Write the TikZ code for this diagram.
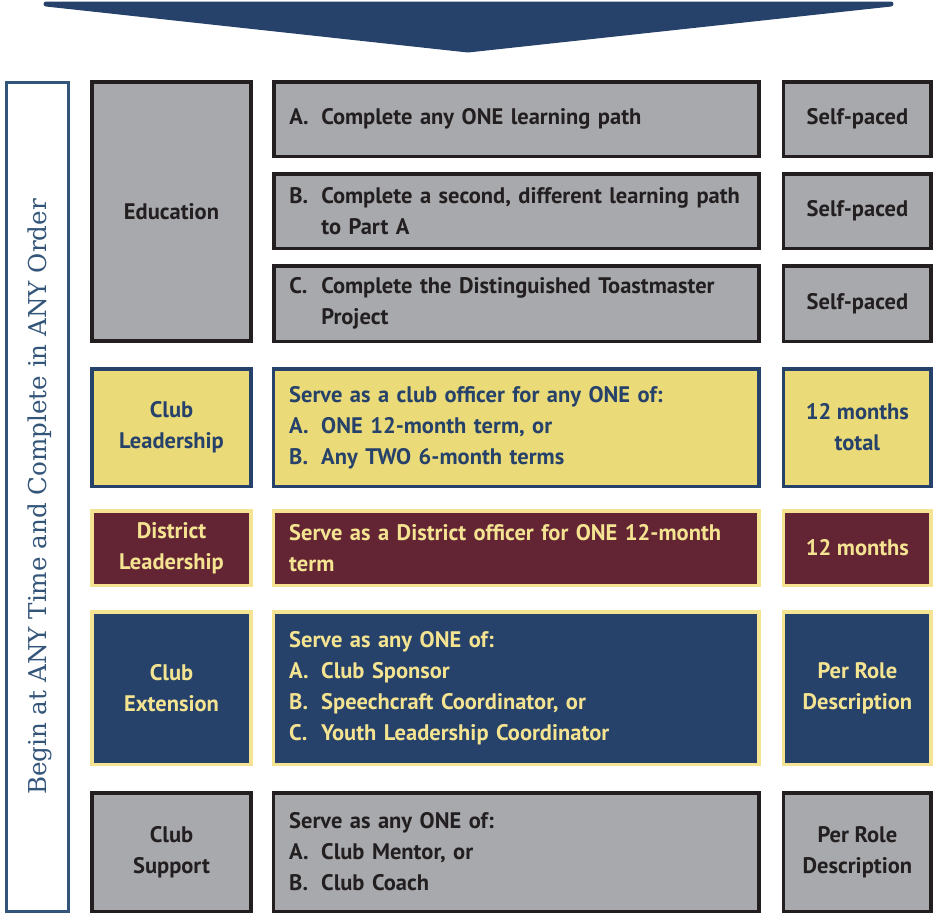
\documentclass[tikz,border=0pt]{standalone}
\usepackage{fontspec}
\setmainfont{PT Sans}
\newfontfamily\slabfont{DejaVu Serif}
\usepackage{tikz}
\usetikzlibrary{positioning}
\definecolor{tmnavy}{HTML}{26426A}
\definecolor{tmgray}{HTML}{A7A9AC}
\definecolor{tmyellow}{HTML}{EADA78}
\definecolor{tmmaroon}{HTML}{632534}
\definecolor{tmcream}{HTML}{F4E391}
\definecolor{tmink}{HTML}{231F20}
\definecolor{tmslate}{HTML}{34557A}
\tikzstyle{base} = [rectangle, line width=0.07cm, inner sep=0pt, font=\bfseries\fontsize{12.8}{17.6}\selectfont]
\tikzstyle{edubox} = [base, draw=tmink, fill=tmgray, text=tmink]
\tikzstyle{clubbox} = [base, draw=tmnavy, fill=tmyellow, text=tmnavy]
\tikzstyle{distbox} = [base, draw=tmcream, fill=tmmaroon, text=tmcream]
\tikzstyle{extbox} = [base, draw=tmcream, fill=tmnavy, text=tmcream]
\tikzstyle{headcol} = [minimum width=3.19cm, align=center]
\tikzstyle{taskcol} = [minimum width=9.71cm, text width=9.09cm, inner xsep=0.31cm, align=left]
\tikzstyle{timecol} = [minimum width=2.95cm, align=center]
\newcommand{\itm}[1]{\makebox[0.64cm][l]{#1}}

\begin{document}
\begin{tikzpicture}[x=0.02cm, y=-0.02cm]
				\useasboundingbox (0,0) rectangle (933,914);
				% big arrow on top
				\filldraw[tmnavy, line width=0.1cm, line join=round] (46,4) -- (891,4) -- (468,50) -- cycle;
				
				\node(order) [draw=tmslate, line width=0.06cm, fill=white, rotate=90, minimum width=16.58cm, minimum height=1.24cm, inner sep=0pt, text depth=0pt, text=tmslate, font=\slabfont\fontsize{14}{16}\selectfont] at (37.5,497) {Begin at ANY Time and Complete in ANY Order};
				
				\node(edu) [edubox, headcol, minimum height=5.19cm] at (171.5,211.5) {Education};
				\node(eduA) [edubox, taskcol, minimum height=1.49cm] at (516.5,119) {\itm{A.}Complete any ONE learning path};
				\node(eduB) [edubox, taskcol, minimum height=1.49cm] at (516.5,211) {\itm{B.}Complete a second, different learning path\\\itm{}to Part A};
				\node(eduC) [edubox, taskcol, minimum height=1.51cm] at (516.5,303.5) {\itm{C.}Complete the Distinguished Toastmaster\\\itm{}Project};
				\node(timeA) [edubox, timecol, minimum height=1.49cm, right=0.42cm of eduA] {Self-paced};
				\node(timeB) [edubox, timecol, minimum height=1.49cm, right=0.42cm of eduB] {Self-paced};
				\node(timeC) [edubox, timecol, minimum height=1.51cm, right=0.42cm of eduC] {Self-paced};
				
				\node(clead) [clubbox, headcol, minimum height=2.35cm] at (171.5,427.5) {Club\\Leadership};
				\node(cleadtask) [clubbox, taskcol, minimum height=2.35cm, right=0.38cm of clead] {Serve as a club officer for any ONE of:\\\itm{A.}ONE 12-month term, or\\\itm{B.}Any TWO 6-month terms};
				\node(cleadtime) [clubbox, timecol, minimum height=2.35cm, right=0.42cm of cleadtask] {12 months\\total};
				
				\node(dlead) [distbox, headcol, minimum height=1.49cm] at (171.5,548) {District\\Leadership};
				\node(dleadtask) [distbox, taskcol, minimum height=1.49cm, right=0.38cm of dlead] {Serve as a District officer for ONE 12-month\\term};
				\node(dleadtime) [distbox, timecol, minimum height=1.49cm, right=0.42cm of dleadtask] {12 months};
				
				\node(cext) [extbox, headcol, minimum height=3.05cm] at (171.5,688) {Club\\Extension};
				\node(cexttask) [extbox, taskcol, minimum height=3.05cm, right=0.38cm of cext] {Serve as any ONE of:\\\itm{A.}Club Sponsor\\\itm{B.}Speechcraft Coordinator, or\\\itm{C.}Youth Leadership Coordinator};
				\node(cexttime) [extbox, timecol, minimum height=3.05cm, right=0.42cm of cexttask] {Per Role\\Description};
				
				\node(csup) [edubox, headcol, minimum height=2.37cm] at (171.5,852) {Club\\Support};
				\node(csuptask) [edubox, taskcol, minimum height=2.37cm, right=0.38cm of csup] {Serve as any ONE of:\\\itm{A.}Club Mentor, or\\\itm{B.}Club Coach};
				\node(csuptime) [edubox, timecol, minimum height=2.37cm, right=0.42cm of csuptask] {Per Role\\Description};
			\end{tikzpicture}
\end{document}
